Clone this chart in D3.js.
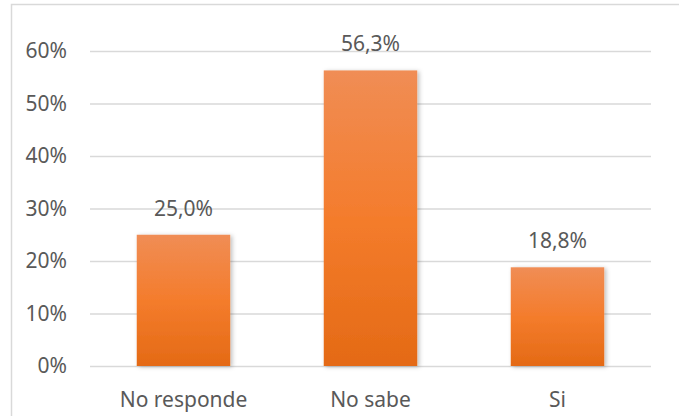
<!DOCTYPE html>
<html>
<head>
<meta charset="utf-8">
<script src="https://cdn.jsdelivr.net/npm/d3@7"></script>
<style>
  body { margin: 0; background: #fff; }
  text { font-family: "Noto Sans", "Open Sans", sans-serif; fill: #595959; }
</style>
</head>
<body>
<div id="chart"></div>
<script>
// data
const categories = ["No responde", "No sabe", "Si"];
const values = [0.25, 0.563, 0.188];
const yTicks = [0, 0.1, 0.2, 0.3, 0.4, 0.5, 0.6];

const width = 679, height = 416;
const plot = { left: 90, right: 651, top: 51, bottom: 366 };
const fontSize = 21;

const locale = d3.formatLocale({ decimal: ",", thousands: ".", grouping: [3], currency: ["", "€"] });
const fmtTick = locale.format(".0%");
const fmtVal = locale.format(".1%");

let svg = d3.select("#chart").append("svg")
    .attr("width", width)
    .attr("height", height);

let defs = svg.append("defs");

let grad = defs.append("linearGradient")
    .attr("id", "barGrad")
    .attr("x1", 0).attr("y1", 0).attr("x2", 0).attr("y2", 1);
grad.append("stop").attr("offset", "0%").attr("stop-color", "#f08d55");
grad.append("stop").attr("offset", "50%").attr("stop-color", "#f47c2c");
grad.append("stop").attr("offset", "100%").attr("stop-color", "#e46a15");

let shadow = defs.append("filter")
    .attr("id", "shadow")
    .attr("x", "-20%").attr("y", "-20%").attr("width", "140%").attr("height", "140%");
shadow.append("feDropShadow")
    .attr("dx", 2).attr("dy", 1).attr("stdDeviation", 2)
    .attr("flood-color", "#000").attr("flood-opacity", 0.25);

// outer frame (chart area border)
svg.append("path")
    .attr("d", "M11.5," + height + "V4.5H" + width)
    .attr("fill", "none")
    .attr("stroke", "#d9d9d9")
    .attr("stroke-width", 1.5);

let x = d3.scaleBand()
    .domain(categories)
    .range([plot.left, plot.right])
    .paddingInner(0.5)
    .paddingOuter(0.25);

let y = d3.scaleLinear()
    .domain([0, 0.6])
    .range([plot.bottom, plot.top]);

// gridlines
svg.append("g")
    .attr("class", "grid")
    .attr("transform", "translate(" + plot.left + ",0)")
    .call(d3.axisLeft(y).tickValues(yTicks).tickSize(-(plot.right - plot.left)).tickFormat(""))
    .call(g => g.select(".domain").remove())
    .call(g => g.selectAll("line").attr("stroke", "#d9d9d9").attr("stroke-width", 1.5));

// y axis labels
svg.append("g")
    .attr("class", "y axis")
    .attr("transform", "translate(" + plot.left + ",0)")
    .call(d3.axisLeft(y).tickValues(yTicks).tickSize(0).tickPadding(23).tickFormat(fmtTick))
    .call(g => g.select(".domain").remove())
    .call(g => g.selectAll("text").attr("font-size", fontSize).attr("fill", "#595959")
        .style("font-family", "'Noto Sans', 'Open Sans', sans-serif"));

// x axis labels
svg.append("g")
    .attr("class", "x axis")
    .attr("transform", "translate(0," + plot.bottom + ")")
    .call(d3.axisBottom(x).tickSize(0).tickPadding(26))
    .call(g => g.select(".domain").remove())
    .call(g => g.selectAll("text").attr("font-size", fontSize).attr("fill", "#595959")
        .style("font-family", "'Noto Sans', 'Open Sans', sans-serif"));

// bars
svg.append("g")
    .selectAll("rect")
    .data(values)
    .join("rect")
    .attr("x", (d, i) => x(categories[i]))
    .attr("y", d => y(d))
    .attr("width", x.bandwidth())
    .attr("height", d => y(0) - y(d))
    .attr("fill", "url(#barGrad)")
    .attr("filter", "url(#shadow)");

// value labels
svg.append("g")
    .selectAll("text")
    .data(values)
    .join("text")
    .attr("x", (d, i) => x(categories[i]) + x.bandwidth() / 2)
    .attr("y", d => y(d) - 19)
    .attr("text-anchor", "middle")
    .attr("font-size", fontSize)
    .text(d => fmtVal(d));
</script>
</body>
</html>
